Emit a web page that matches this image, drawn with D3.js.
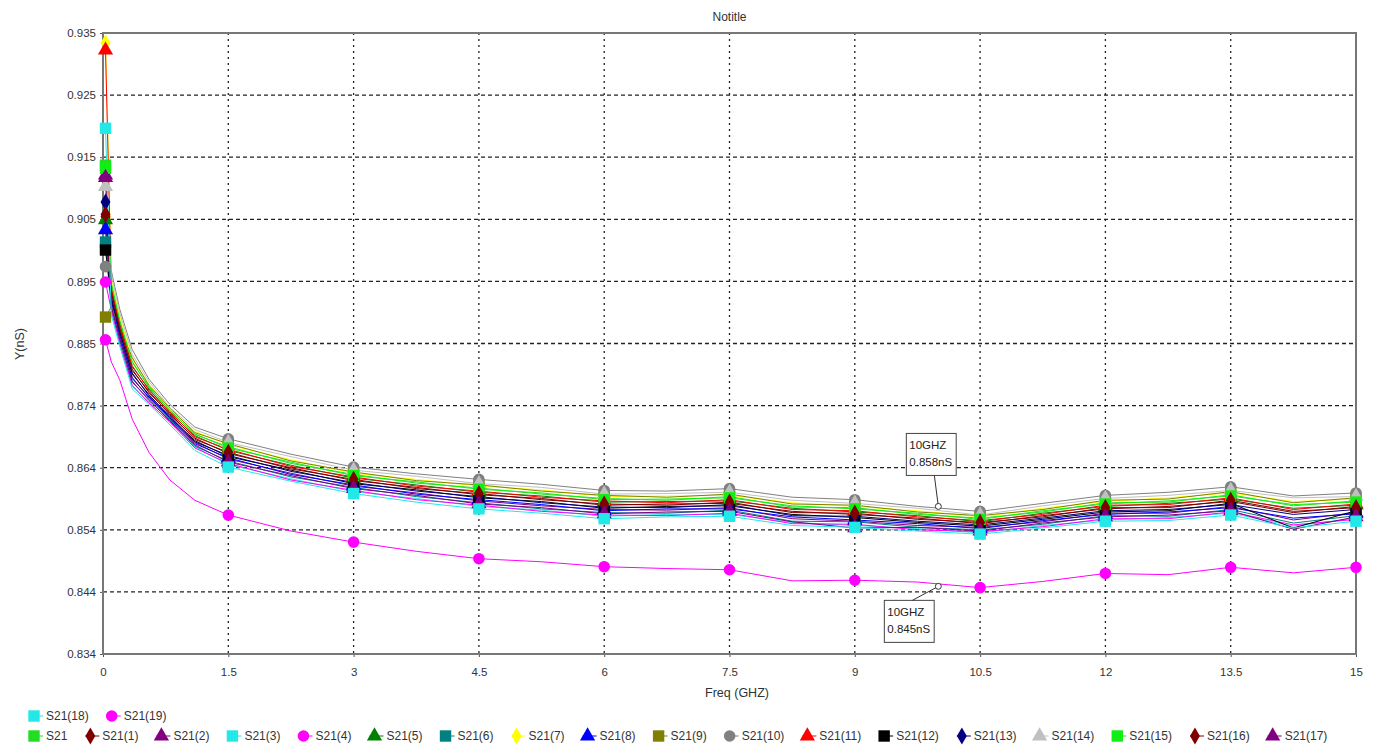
<!DOCTYPE html>
<html>
<head>
<meta charset="utf-8">
<script src="https://cdn.jsdelivr.net/npm/d3@7"></script>
<style>
  body { margin: 0; background: #fff; }
  text { font-family: "Liberation Sans", Arial, sans-serif; }
</style>
</head>
<body>
<svg id="chart" width="1373" height="748"></svg>
<script>
// frequency points (GHz) shared by every trace
const freqGHz = [0.03, 0.1, 0.2, 0.35, 0.55, 0.8, 1.1, 1.5, 2.25, 3, 3.75, 4.5, 5.25, 6, 6.75,
  7.5, 8.25, 9, 9.75, 10.5, 11.25, 12, 12.75, 13.5, 14.25, 15];
// markers only drawn at these frequencies
const markerFreqs = [0.03, 1.5, 3, 4.5, 6, 7.5, 9, 10.5, 12, 13.5, 15];

const xTickValues = [0, 1.5, 3, 4.5, 6, 7.5, 9, 10.5, 12, 13.5, 15];
const xTickLabels = ["0", "1.5", "3", "4.5", "6", "7.5", "9", "10.5", "12", "13.5", "15"];
const yTickValues = [0.834, 0.8441, 0.8542, 0.8643, 0.8744, 0.8845, 0.8946, 0.9047, 0.9148, 0.9249, 0.935];
const yTickLabels = ["0.834", "0.844", "0.854", "0.864", "0.874", "0.885", "0.895", "0.905", "0.915", "0.925", "0.935"];

// Y (nS) per trace
const s21    = [0.9135, 0.8944, 0.8881, 0.8816, 0.8773, 0.8737, 0.8697, 0.8677, 0.8650, 0.8632, 0.8618, 0.8610, 0.8600, 0.8593, 0.8590, 0.8596, 0.8579, 0.8578, 0.8567, 0.8561, 0.8571, 0.8586, 0.8587, 0.8599, 0.8581, 0.8589];
const s21_1  = [0.9051, 0.8927, 0.8871, 0.8801, 0.8767, 0.8729, 0.8691, 0.8666, 0.8643, 0.8622, 0.8611, 0.8599, 0.8593, 0.8582, 0.8584, 0.8585, 0.8572, 0.8567, 0.8561, 0.8552, 0.8565, 0.8576, 0.8580, 0.8588, 0.8570, 0.8580];
const s21_2  = [0.9119, 0.8915, 0.8857, 0.8790, 0.8756, 0.8722, 0.8684, 0.8657, 0.8634, 0.8613, 0.8602, 0.8589, 0.8581, 0.8575, 0.8574, 0.8578, 0.8560, 0.8556, 0.8549, 0.8546, 0.8555, 0.8569, 0.8569, 0.8580, 0.8558, 0.8570];
const s21_3  = [0.9000, 0.8897, 0.8847, 0.8775, 0.8750, 0.8716, 0.8677, 0.8648, 0.8625, 0.8604, 0.8593, 0.8580, 0.8574, 0.8564, 0.8567, 0.8567, 0.8554, 0.8549, 0.8544, 0.8537, 0.8549, 0.8558, 0.8562, 0.8569, 0.8548, 0.8561];
const s21_4  = [0.8945, 0.8899, 0.8845, 0.8777, 0.8748, 0.8718, 0.8675, 0.8650, 0.8623, 0.8606, 0.8591, 0.8582, 0.8572, 0.8566, 0.8565, 0.8569, 0.8552, 0.8551, 0.8542, 0.8539, 0.8547, 0.8560, 0.8560, 0.8571, 0.8550, 0.8559];
const s21_5  = [0.9046, 0.8934, 0.8877, 0.8807, 0.8771, 0.8732, 0.8695, 0.8671, 0.8647, 0.8626, 0.8615, 0.8603, 0.8597, 0.8587, 0.8588, 0.8589, 0.8577, 0.8571, 0.8565, 0.8555, 0.8569, 0.8580, 0.8585, 0.8592, 0.8577, 0.8582];
const s21_6  = [0.9010, 0.8906, 0.8851, 0.8784, 0.8752, 0.8721, 0.8678, 0.8654, 0.8628, 0.8611, 0.8596, 0.8586, 0.8576, 0.8570, 0.8569, 0.8574, 0.8556, 0.8555, 0.8546, 0.8542, 0.8551, 0.8565, 0.8564, 0.8575, 0.8553, 0.8565];
const s21_7  = [0.9334, 0.8951, 0.8889, 0.8820, 0.8779, 0.8738, 0.8702, 0.8680, 0.8656, 0.8634, 0.8624, 0.8613, 0.8607, 0.8596, 0.8597, 0.8598, 0.8586, 0.8580, 0.8573, 0.8563, 0.8577, 0.8588, 0.8594, 0.8602, 0.8588, 0.8592];
const s21_8  = [0.9030, 0.8912, 0.8859, 0.8788, 0.8758, 0.8724, 0.8682, 0.8659, 0.8632, 0.8615, 0.8600, 0.8591, 0.8583, 0.8573, 0.8576, 0.8576, 0.8563, 0.8558, 0.8552, 0.8544, 0.8557, 0.8567, 0.8571, 0.8578, 0.8561, 0.8568];
const s21_9  = [0.8888, 0.8905, 0.8870, 0.8822, 0.8777, 0.8740, 0.8700, 0.8682, 0.8654, 0.8636, 0.8622, 0.8615, 0.8605, 0.8598, 0.8595, 0.8600, 0.8584, 0.8582, 0.8571, 0.8565, 0.8575, 0.8590, 0.8592, 0.8604, 0.8586, 0.8594];
const s21_10 = [0.8970, 0.8963, 0.8901, 0.8835, 0.8787, 0.8746, 0.8709, 0.8690, 0.8665, 0.8644, 0.8633, 0.8624, 0.8616, 0.8606, 0.8605, 0.8609, 0.8595, 0.8591, 0.8580, 0.8572, 0.8585, 0.8598, 0.8603, 0.8612, 0.8597, 0.8602];
const s21_11 = [0.9322, 0.8936, 0.8875, 0.8809, 0.8769, 0.8734, 0.8693, 0.8673, 0.8645, 0.8628, 0.8613, 0.8605, 0.8595, 0.8589, 0.8586, 0.8591, 0.8575, 0.8573, 0.8563, 0.8557, 0.8567, 0.8582, 0.8583, 0.8594, 0.8575, 0.8584];
const s21_12 = [0.8997, 0.8918, 0.8865, 0.8795, 0.8762, 0.8725, 0.8687, 0.8661, 0.8639, 0.8617, 0.8607, 0.8594, 0.8588, 0.8577, 0.8580, 0.8581, 0.8567, 0.8562, 0.8554, 0.8548, 0.8559, 0.8571, 0.8573, 0.8585, 0.8545, 0.8573];
const s21_13 = [0.9075, 0.8921, 0.8863, 0.8797, 0.8760, 0.8727, 0.8685, 0.8663, 0.8637, 0.8619, 0.8605, 0.8596, 0.8586, 0.8579, 0.8578, 0.8583, 0.8565, 0.8564, 0.8556, 0.8550, 0.8561, 0.8573, 0.8575, 0.8583, 0.8567, 0.8575];
const s21_14 = [0.9100, 0.8957, 0.8895, 0.8827, 0.8783, 0.8741, 0.8705, 0.8684, 0.8661, 0.8639, 0.8629, 0.8617, 0.8611, 0.8600, 0.8601, 0.8603, 0.8590, 0.8585, 0.8577, 0.8566, 0.8581, 0.8593, 0.8598, 0.8606, 0.8594, 0.8596];
const s21_15 = [0.9130, 0.8942, 0.8883, 0.8814, 0.8775, 0.8735, 0.8698, 0.8675, 0.8652, 0.8630, 0.8620, 0.8608, 0.8602, 0.8591, 0.8592, 0.8594, 0.8581, 0.8576, 0.8569, 0.8559, 0.8573, 0.8584, 0.8589, 0.8597, 0.8583, 0.8587];
const s21_16 = [0.9055, 0.8929, 0.8869, 0.8803, 0.8765, 0.8731, 0.8689, 0.8668, 0.8641, 0.8624, 0.8609, 0.8601, 0.8591, 0.8584, 0.8582, 0.8587, 0.8570, 0.8569, 0.8559, 0.8554, 0.8563, 0.8578, 0.8578, 0.8590, 0.8572, 0.8578];
const s21_17 = [0.9115, 0.8904, 0.8853, 0.8782, 0.8754, 0.8719, 0.8680, 0.8652, 0.8630, 0.8609, 0.8598, 0.8584, 0.8578, 0.8568, 0.8571, 0.8572, 0.8555, 0.8545, 0.8546, 0.8540, 0.8553, 0.8563, 0.8566, 0.8573, 0.8543, 0.8563];
const s21_18 = [0.9195, 0.8891, 0.8841, 0.8771, 0.8746, 0.8713, 0.8671, 0.8644, 0.8621, 0.8601, 0.8587, 0.8576, 0.8569, 0.8560, 0.8563, 0.8564, 0.8549, 0.8546, 0.8540, 0.8535, 0.8545, 0.8556, 0.8557, 0.8566, 0.8545, 0.8556];
const s21_19 = [0.8851, 0.8815, 0.8786, 0.8722, 0.8668, 0.8623, 0.8590, 0.8566, 0.8540, 0.8522, 0.8507, 0.8495, 0.8490, 0.8482, 0.8479, 0.8477, 0.8459, 0.8460, 0.8457, 0.8448, 0.8458, 0.8471, 0.8469, 0.8481, 0.8472, 0.8481];

const seriesNames = ["S21", "S21(1)", "S21(2)", "S21(3)", "S21(4)", "S21(5)", "S21(6)", "S21(7)", "S21(8)", "S21(9)",
  "S21(10)", "S21(11)", "S21(12)", "S21(13)", "S21(14)", "S21(15)", "S21(16)", "S21(17)", "S21(18)", "S21(19)"];
const seriesValues = [s21, s21_1, s21_2, s21_3, s21_4, s21_5, s21_6, s21_7, s21_8, s21_9,
  s21_10, s21_11, s21_12, s21_13, s21_14, s21_15, s21_16, s21_17, s21_18, s21_19];

// colour + marker shape of every trace
const seriesColors = ["#22dd22", "#800000", "#800080", "#22e8e8", "#ff00ff", "#008000", "#008080", "#ffff00", "#0000ff", "#808000",
  "#808080", "#ff0000", "#000000", "#000080", "#c0c0c0", "#11ee11", "#800000", "#800080", "#22e8e8", "#ff00ff"];
const seriesShapes = ["square", "diamond", "triangle", "square", "circle", "triangle", "square", "diamond", "triangle", "square",
  "circle", "triangle", "square", "diamond", "triangle", "square", "diamond", "triangle", "square", "circle"];

// the two data labels
const noteFreq = [10, 10];
const noteValue = [0.858, 0.845];
const noteLines = [["10GHZ", "0.858nS"], ["10GHZ", "0.845nS"]];

const svg = d3.select("#chart");
const margin = { top: 33, right: 17, bottom: 94, left: 103 };
const width = 1373 - margin.left - margin.right;
const height = 748 - margin.top - margin.bottom;

const x = d3.scaleLinear().domain([0, 15]).range([margin.left, margin.left + width]);
const y = d3.scaleLinear().domain([0.834, 0.935]).range([margin.top + height, margin.top]);

// grid
svg.append("g").selectAll("line")
  .data(yTickValues.slice(1, -1))
  .enter().append("line")
    .attr("x1", margin.left).attr("x2", margin.left + width)
    .attr("y1", d => y(d)).attr("y2", d => y(d))
    .attr("stroke", "#222").attr("stroke-width", 1.3)
    .attr("stroke-dasharray", "4,3");

svg.append("g").selectAll("line")
  .data(xTickValues.slice(1, -1))
  .enter().append("line")
    .attr("x1", d => x(d)).attr("x2", d => x(d))
    .attr("y1", margin.top).attr("y2", margin.top + height)
    .attr("stroke", "#222").attr("stroke-width", 1.3)
    .attr("stroke-dasharray", "2,4");

// axes
const yAxis = svg.append("g")
  .attr("transform", `translate(${margin.left},0)`)
  .call(d3.axisLeft(y).tickValues(yTickValues).tickSize(3).tickFormat((d, i) => yTickLabels[i]));
const xAxis = svg.append("g")
  .attr("transform", `translate(0,${margin.top + height})`)
  .call(d3.axisBottom(x).tickValues(xTickValues).tickSize(3).tickFormat((d, i) => xTickLabels[i]));
[yAxis, xAxis].forEach(a => {
  a.select(".domain").remove();
  a.selectAll("line").attr("stroke", "#555");
  a.selectAll("text").attr("fill", "#333").style("font-size", "11.5px");
});
xAxis.selectAll("text").attr("dy", "1.35em");
yAxis.selectAll("text").attr("dx", "-1px");

// frame
svg.append("rect")
  .attr("x", margin.left).attr("y", margin.top)
  .attr("width", width).attr("height", height)
  .attr("fill", "none").attr("stroke", "#777").attr("stroke-width", 2);

// traces
const line = d3.line().x((d, i) => x(freqGHz[i])).y(d => y(d));
const plot = svg.append("g");

seriesValues.forEach((vals, s) => {
  plot.append("path")
    .attr("d", line(vals))
    .attr("fill", "none")
    .attr("stroke", seriesColors[s])
    .attr("stroke-width", 1);
});

const symbolType = { square: d3.symbolSquare, circle: d3.symbolCircle, triangle: d3.symbolTriangle, diamond: d3.symbolDiamond };
const symbolSize = { square: 130, circle: 105, triangle: 100, diamond: 85 };

seriesValues.forEach((vals, s) => {
  const pts = freqGHz.map((f, i) => ({ f: f, v: vals[i] })).filter(p => markerFreqs.includes(p.f));
  plot.append("g").selectAll("path")
    .data(pts)
    .enter().append("path")
      .attr("transform", d => `translate(${x(d.f)},${y(d.v)})`)
      .attr("d", d3.symbol().type(symbolType[seriesShapes[s]]).size(symbolSize[seriesShapes[s]]))
      .attr("fill", seriesColors[s]);
});

// data labels
const boxOffset = [[-32, -73], [-54, 14]];
noteFreq.forEach((f, i) => {
  const px = x(f), py = y(noteValue[i]);
  const g = svg.append("g").attr("transform", `translate(${px + boxOffset[i][0]},${py + boxOffset[i][1]})`);
  const t = g.append("text").style("font-size", "11.5px").attr("fill", "#222");
  noteLines[i].forEach((l, k) => t.append("tspan").attr("x", 3).attr("y", 16 + k * 17).text(l));
  const w = d3.max(t.selectAll("tspan").nodes(), n => n.getComputedTextLength());
  g.insert("rect", "text")
    .attr("width", w + 7).attr("height", 42)
    .attr("fill", "#fff").attr("stroke", "#444").attr("stroke-width", 1);
  const ly = boxOffset[i][1] < 0 ? py + boxOffset[i][1] + 42 : py + boxOffset[i][1];
  const lx = boxOffset[i][1] < 0 ? px - 4 : px + boxOffset[i][0] + 28;
  svg.append("line")
    .attr("x1", px).attr("y1", py).attr("x2", lx).attr("y2", ly)
    .attr("stroke", "#333").attr("stroke-width", 1);
  svg.append("circle")
    .attr("cx", px).attr("cy", py).attr("r", 3)
    .attr("fill", "#fff").attr("stroke", "#333");
});

// titles
svg.append("text")
  .attr("x", margin.left + width / 2).attr("y", 21)
  .attr("text-anchor", "middle").style("font-size", "12px").attr("fill", "#333")
  .text("Notitle");
svg.append("text")
  .attr("x", 737).attr("y", 697)
  .attr("text-anchor", "middle").style("font-size", "12.5px").attr("fill", "#333")
  .text("Freq (GHZ)");
svg.append("text")
  .attr("transform", "translate(24,344) rotate(-90)")
  .attr("text-anchor", "middle").style("font-size", "12.5px").attr("fill", "#333")
  .text("Y(nS)");

// legend: first row S21(18), S21(19), second row the rest
const legendRows = [[18, 19], d3.range(0, 18)];
const legendY = [716, 736];
legendRows.forEach((row, r) => {
  let cx = 27;
  row.forEach(s => {
    const g = svg.append("g").attr("transform", `translate(${cx},${legendY[r]})`);
    g.append("line").attr("x1", 2).attr("x2", 16).attr("stroke", seriesColors[s]).attr("stroke-width", 1);
    g.append("path")
      .attr("transform", "translate(7,0)")
      .attr("d", d3.symbol().type(symbolType[seriesShapes[s]]).size(symbolSize[seriesShapes[s]]))
      .attr("fill", seriesColors[s]);
    const t = g.append("text").attr("x", 19).attr("dy", "0.35em")
      .style("font-size", "12px").attr("fill", "#333").text(seriesNames[s]);
    cx += 19 + t.node().getComputedTextLength() + 16;
  });
});
</script>
</body>
</html>
